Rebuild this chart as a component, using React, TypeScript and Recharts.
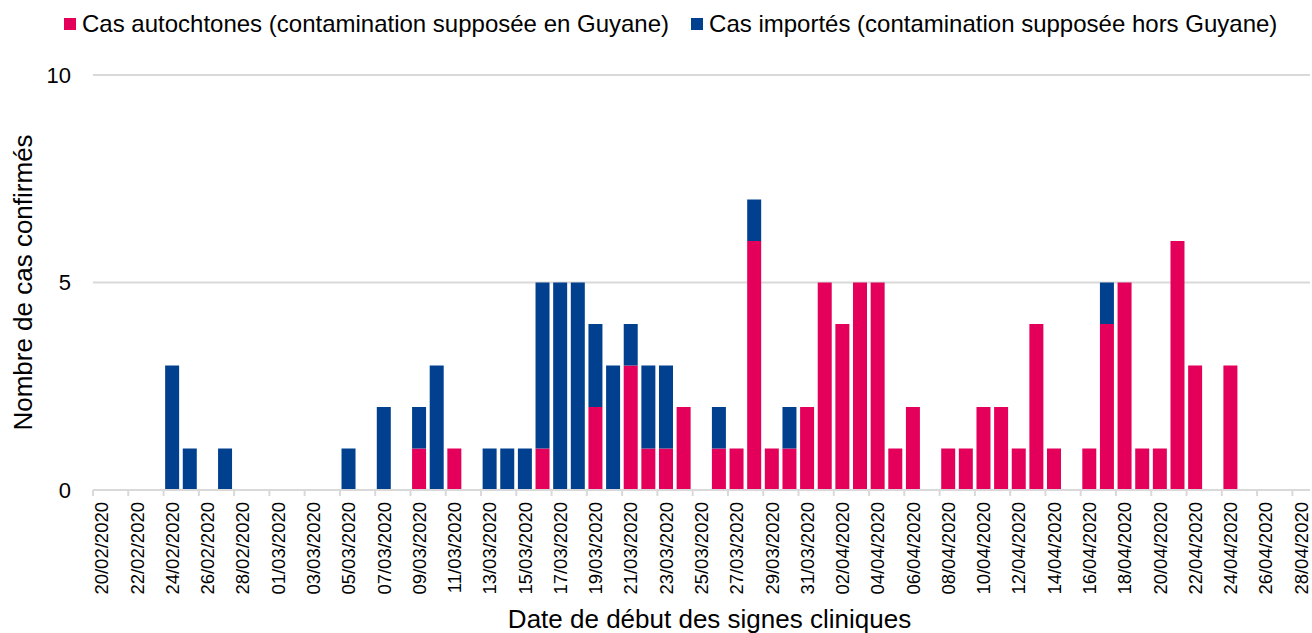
import React from 'react';
import { BarChart, Bar, XAxis, YAxis, CartesianGrid, Legend } from 'recharts';

const dates = [
  '20/02/2020', '21/02/2020', '22/02/2020', '23/02/2020', '24/02/2020', '25/02/2020', '26/02/2020', '27/02/2020', '28/02/2020', '29/02/2020',
  '01/03/2020', '02/03/2020', '03/03/2020', '04/03/2020', '05/03/2020', '06/03/2020', '07/03/2020', '08/03/2020', '09/03/2020', '10/03/2020',
  '11/03/2020', '12/03/2020', '13/03/2020', '14/03/2020', '15/03/2020', '16/03/2020', '17/03/2020', '18/03/2020', '19/03/2020', '20/03/2020',
  '21/03/2020', '22/03/2020', '23/03/2020', '24/03/2020', '25/03/2020', '26/03/2020', '27/03/2020', '28/03/2020', '29/03/2020', '30/03/2020',
  '31/03/2020', '01/04/2020', '02/04/2020', '03/04/2020', '04/04/2020', '05/04/2020', '06/04/2020', '07/04/2020', '08/04/2020', '09/04/2020',
  '10/04/2020', '11/04/2020', '12/04/2020', '13/04/2020', '14/04/2020', '15/04/2020', '16/04/2020', '17/04/2020', '18/04/2020', '19/04/2020',
  '20/04/2020', '21/04/2020', '22/04/2020', '23/04/2020', '24/04/2020', '25/04/2020', '26/04/2020', '27/04/2020', '28/04/2020',
];

const autochtones = [
  0, 0, 0, 0, 0, 0, 0, 0, 0, 0,
  0, 0, 0, 0, 0, 0, 0, 0, 1, 0,
  1, 0, 0, 0, 0, 1, 0, 0, 2, 0,
  3, 1, 1, 2, 0, 1, 1, 6, 1, 1,
  2, 5, 4, 5, 5, 1, 2, 0, 1, 1,
  2, 2, 1, 4, 1, 0, 1, 4, 5, 1,
  1, 6, 3, 0, 3, 0, 0, 0, 0,
];

const importes = [
  0, 0, 0, 0, 3, 1, 0, 1, 0, 0,
  0, 0, 0, 0, 1, 0, 2, 0, 1, 3,
  0, 0, 1, 1, 1, 4, 5, 5, 2, 3,
  1, 2, 2, 0, 0, 1, 0, 1, 0, 1,
  0, 0, 0, 0, 0, 0, 0, 0, 0, 0,
  0, 0, 0, 0, 0, 0, 0, 1, 0, 0,
  0, 0, 0, 0, 0, 0, 0, 0, 0,
];

const yTicks = [0, 5, 10];

const seriesNames = {
  autochtones: 'Cas autochtones (contamination supposée en Guyane)',
  importes: 'Cas importés (contamination supposée hors Guyane)',
};

const data = dates.map((d, i) => ({ date: d, autochtones: autochtones[i], importes: importes[i] }));

const PINK = '#E4005A';
const BLUE = '#00408F';
const GRID = '#d9d9d9';
const FONT = '"Liberation Sans", Arial, Helvetica, sans-serif';

function DateTick(props: any) {
  const { x, y, payload } = props;
  const half = payload && payload.offset ? payload.offset : 8.82;
  return (
    <g>
      <line x1={x - half} x2={x - half} y1={y} y2={y + 6} stroke={GRID} strokeWidth={2} />
      <text
        transform={`translate(${x},${y + 12}) rotate(-90)`}
        textAnchor="end"
        dominantBaseline="central"
        fontSize={18.5}
        fill="#000"
        fontFamily={FONT}
      >
        {payload.value}
      </text>
    </g>
  );
}

function YTitle(props: any) {
  const vb = props.viewBox || { x: 0, y: 75, width: 93, height: 415 };
  const cx = vb.x + 23;
  const cy = vb.y + vb.height / 2;
  return (
    <text
      x={cx}
      y={cy}
      transform={`rotate(-90 ${cx} ${cy})`}
      textAnchor="middle"
      dominantBaseline="central"
      fontSize={26}
      fill="#000"
      fontFamily={FONT}
    >
      Nombre de cas confirmés
    </text>
  );
}

function XTitle(props: any) {
  const vb = props.viewBox || { x: 93, y: 490, width: 1217, height: 143 };
  return (
    <text
      x={vb.x + vb.width / 2 + 8}
      y={628}
      textAnchor="middle"
      fontSize={26}
      fill="#000"
      fontFamily={FONT}
    >
      Date de début des signes cliniques
    </text>
  );
}

function LegendContent() {
  const items = [
    { key: 'autochtones', color: PINK },
    { key: 'importes', color: BLUE },
  ];
  return (
    <div
      style={{
        display: 'flex',
        alignItems: 'center',
        height: 30,
        fontFamily: FONT,
        fontSize: 24,
        lineHeight: '30px',
        color: '#000',
        whiteSpace: 'nowrap',
      }}
    >
      {items.map((it, i) => (
        <div key={it.key} style={{ display: 'flex', alignItems: 'center', marginRight: i === 0 ? 22 : 0 }}>
          <span style={{ display: 'inline-block', width: 12, height: 12, background: it.color, marginRight: 6 }} />
          <span>{(seriesNames as any)[it.key]}</span>
        </div>
      ))}
    </div>
  );
}

export default function App() {
  return (
    <div style={{ position: 'absolute', left: 0, top: 0, width: 1312, height: 633, background: '#fff' }}>
      <BarChart
        width={1312}
        height={633}
        data={data}
        margin={{ top: 45, right: 2, bottom: 0, left: 0 }}
        barCategoryGap="9%"
      >
        <Legend
          verticalAlign="top"
          align="left"
          content={<LegendContent />}
          wrapperStyle={{ top: 9, left: 64, width: 1240, height: 30 }}
        />
        <CartesianGrid vertical={false} stroke={GRID} strokeWidth={2} />
        <XAxis
          dataKey="date"
          interval={1}
          height={143}
          tickSize={0}
          tickMargin={0}
          tick={<DateTick />}
          tickLine={false}
          axisLine={{ stroke: GRID, strokeWidth: 2 }}
          label={<XTitle />}
        />
        <YAxis
          domain={[0, 10]}
          ticks={yTicks}
          width={93}
          axisLine={false}
          tickLine={false}
          tickSize={0}
          tickMargin={22}
          tick={{ fontSize: 22, fill: '#000', fontFamily: FONT }}
          label={<YTitle />}
        />
        <Bar dataKey="autochtones" name={seriesNames.autochtones} stackId="a" fill={PINK} isAnimationActive={false} />
        <Bar dataKey="importes" name={seriesNames.importes} stackId="a" fill={BLUE} isAnimationActive={false} />
      </BarChart>
    </div>
  );
}
